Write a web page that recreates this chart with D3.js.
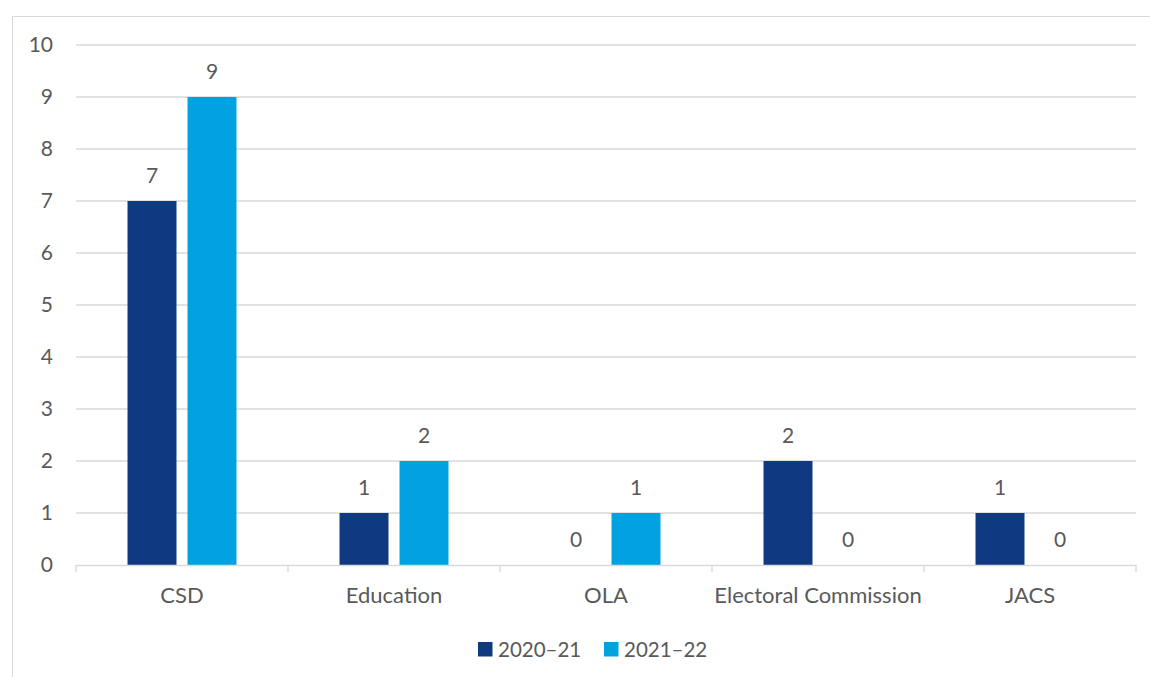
<!DOCTYPE html>
<html>
<head>
<meta charset="utf-8">
<script src="https://cdn.jsdelivr.net/npm/d3@7"></script>
<style>
  html, body { margin: 0; padding: 0; background: #ffffff; }
  svg { display: block; }
  text { font-family: Lato, "Open Sans", sans-serif; fill: #595959; }
</style>
</head>
<body>
<svg id="chart" width="1150" height="677"></svg>
<script>
// Complaints by agency, two financial years
const categories = ["CSD", "Education", "OLA", "Electoral Commission", "JACS"];
const seriesNames = ["2020–21", "2021–22"];
const values2020 = [7, 1, 0, 2, 1];
const values2021 = [9, 2, 1, 0, 0];
const yTicks = [0, 1, 2, 3, 4, 5, 6, 7, 8, 9, 10];
const colors = ["#0f3a82", "#00a3e0"];

const series = [values2020, values2021];
const fontSize = 21;

const svg = d3.select("#chart");
const margin = { left: 76, right: 1136, top: 45, bottom: 565 };

// chart frame
svg.append("rect")
  .attr("x", 12.5).attr("y", 16.5)
  .attr("width", 1150).attr("height", 700)
  .attr("fill", "none").attr("stroke", "#d9d9d9").attr("stroke-width", 1);

const x = d3.scaleBand().domain(categories).range([margin.left, margin.right]);
// bar width and gap as fractions of the category band
const barW = x.bandwidth() * 0.231;
const gapW = x.bandwidth() * 0.052;
const offset = (x.bandwidth() - 2 * barW - gapW) / 2;
const barX = (c, si) => x(c) + offset + si * (barW + gapW);
const y = d3.scaleLinear().domain([0, 10]).range([margin.bottom, margin.top]);

// gridlines
svg.append("g").selectAll("line").data(yTicks.filter(d => d > 0)).join("line")
  .attr("x1", margin.left).attr("x2", margin.right)
  .attr("y1", d => y(d)).attr("y2", d => y(d))
  .attr("stroke", "#d9d9d9").attr("stroke-width", 1.3);

// y axis labels
const yAxis = d3.axisLeft(y).tickValues(yTicks).tickSize(0).tickPadding(0);
const gy = svg.append("g").attr("transform", `translate(${margin.left - 23},0)`).call(yAxis);
gy.select(".domain").remove();
gy.selectAll("text").attr("font-size", fontSize).attr("fill", "#595959")
  .style("font-family", "Lato, 'Open Sans', sans-serif");

// bars
series.forEach((vals, si) => {
  svg.append("g").selectAll("rect").data(categories).join("rect")
    .attr("x", c => barX(c, si))
    .attr("width", barW)
    .attr("y", (c, i) => y(vals[i]))
    .attr("height", (c, i) => y(0) - y(vals[i]))
    .attr("fill", colors[si]);

  // value labels
  svg.append("g").selectAll("text").data(categories).join("text")
    .attr("x", c => barX(c, si) + barW / 2)
    .attr("y", (c, i) => y(vals[i]) - 18)
    .attr("text-anchor", "middle")
    .attr("font-size", fontSize)
    .text((c, i) => vals[i]);
});

// x axis
const xAxis = d3.axisBottom(x).tickSize(0).tickPadding(0);
const gx = svg.append("g").attr("transform", `translate(0,${margin.bottom})`).call(xAxis);
gx.select(".domain").attr("stroke", "#d9d9d9").attr("stroke-width", 1.3);
gx.selectAll("text").attr("font-size", 22).attr("fill", "#595959").attr("y", 38).attr("dy", 0)
  .style("font-family", "Lato, 'Open Sans', sans-serif");

// category boundary ticks
const bounds = categories.map(c => x(c)).concat([margin.right]);
svg.append("g").selectAll("line").data(bounds).join("line")
  .attr("x1", d => d).attr("x2", d => d)
  .attr("y1", margin.bottom).attr("y2", margin.bottom + 7)
  .attr("stroke", "#d9d9d9").attr("stroke-width", 1.3);

// legend
const legend = svg.append("g");
const legendItems = [{ name: seriesNames[0], x: 478 }, { name: seriesNames[1], x: 604 }];
legendItems.forEach((d, i) => {
  legend.append("rect").attr("x", d.x).attr("y", 642).attr("width", 14.5).attr("height", 14.5).attr("fill", colors[i]);
  legend.append("text").attr("x", d.x + 20).attr("y", 657).attr("font-size", 20.5).text(d.name);
});
</script>
</body>
</html>
